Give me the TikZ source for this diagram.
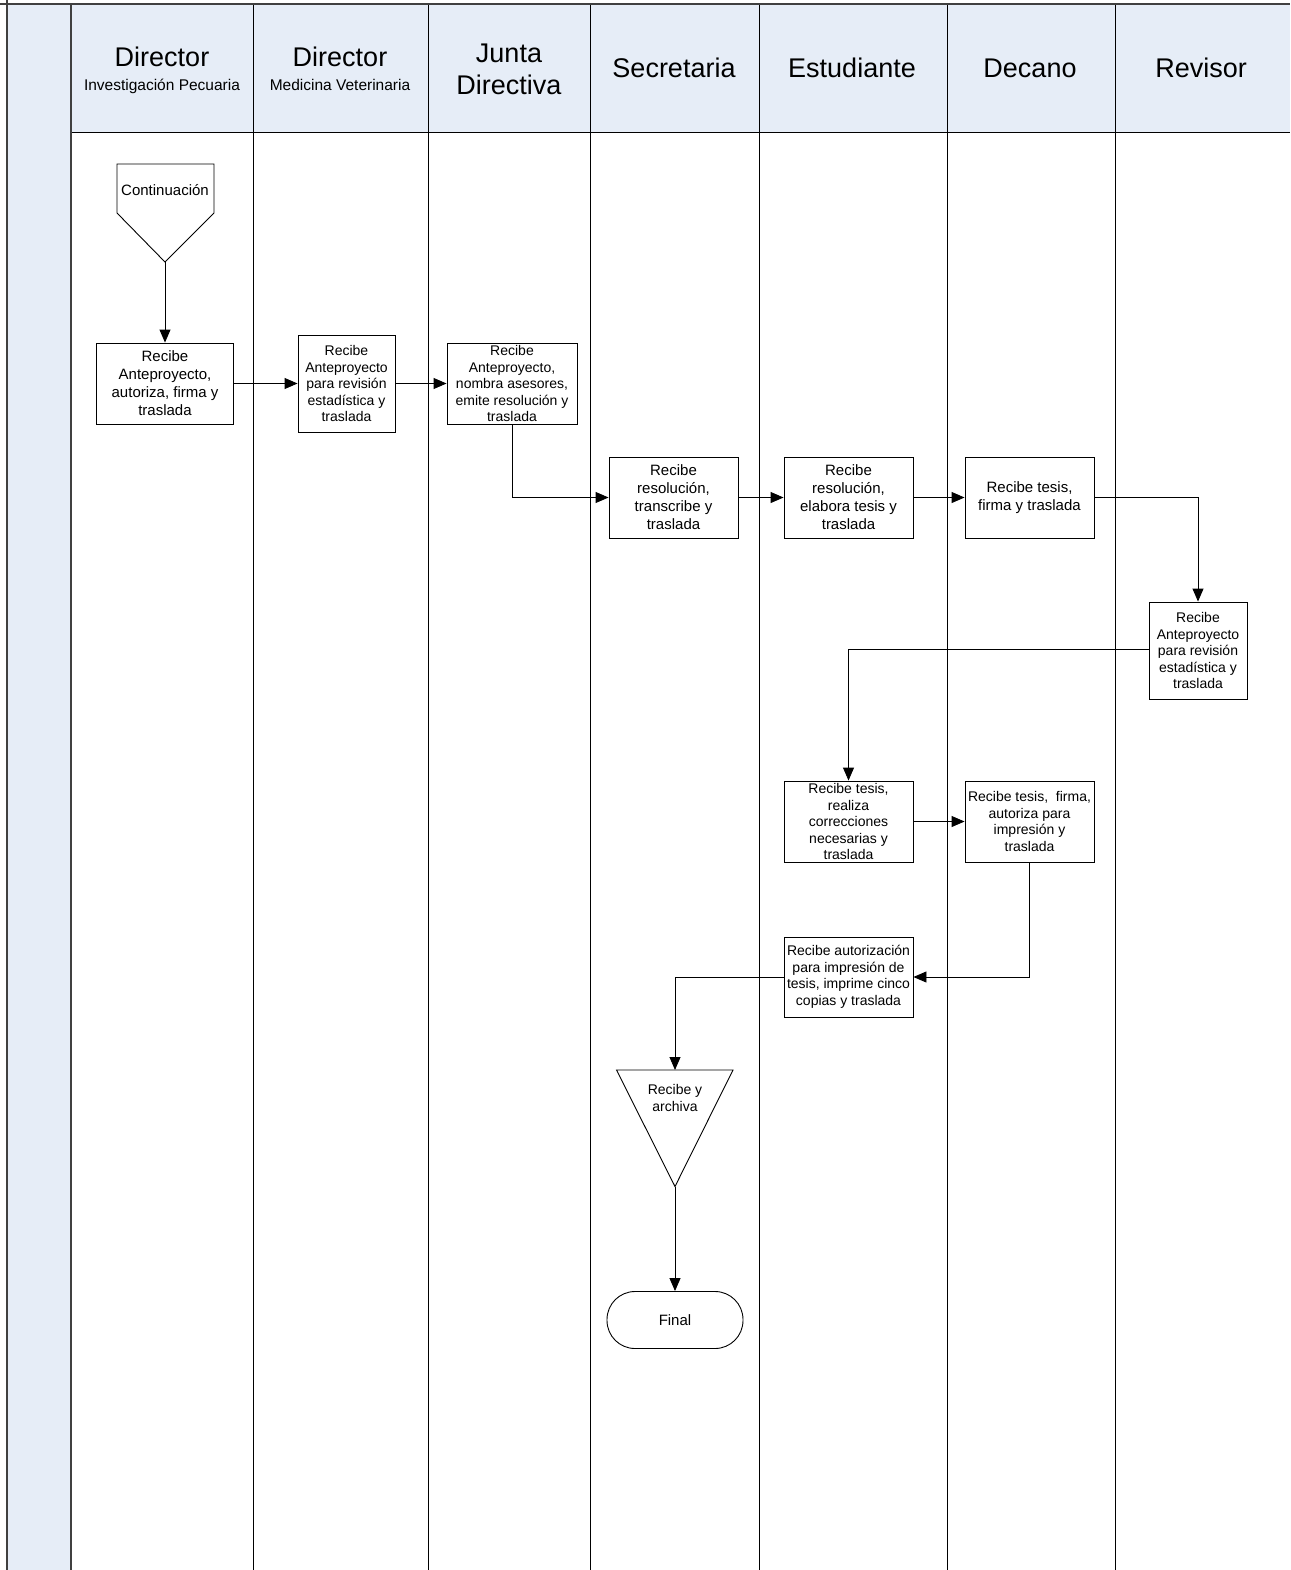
\documentclass[tikz,border=0pt]{standalone}
\usepackage{fontspec}
\setmainfont{Liberation Sans}
\usetikzlibrary{arrows.meta}
\definecolor{hdr}{RGB}{230,237,247}
\definecolor{framec}{RGB}{64,64,64}
\begin{document}
\begin{tikzpicture}[x=1pt,y=-1pt,
  proc/.style={draw,line width=0.9pt,inner sep=0pt,align=center},
  flow/.style={line width=0.9pt,-{Triangle[length=13pt,width=11pt]}},
  lane/.style={line width=1pt},
  frameline/.style={draw=framec,line width=2pt},
  hbig/.style={font=\fontsize{27}{32}\selectfont,anchor=base},
  hsmall/.style={font=\fontsize{15.5}{18}\selectfont,anchor=base},
  tA/.style={font=\fontsize{15}{18}\selectfont,align=center},
  tB/.style={font=\fontsize{14}{16.5}\selectfont,align=center}]
\useasboundingbox (0,0) rectangle (1290,1570);
% backgrounds
\fill[hdr] (7,5) rectangle (1290,133);
\fill[hdr] (7,5) rectangle (71,1570);
% lane lines
\draw[lane] (71,133) -- (1290,133);
\foreach \xx in {253,428,590,759,947,1115} {\draw[lane] (\xx,5) -- (\xx,1570);}
\draw[frameline] (0,4) -- (1290,4);
\draw[frameline] (7,0) -- (7,1570);
\draw[frameline] (71,5) -- (71,1570);
% headers
\node[hbig] (h1) at (162,67) {Director};
\node[hsmall] (h1s) at (162,91) {Investigación Pecuaria};
\node[hbig] (h2) at (340,67) {Director};
\node[hsmall] (h2s) at (340,91) {Medicina Veterinaria};
\node[hbig] (h3a) at (509,63) {Junta};
\node[hbig] (h3b) at (509,95) {Directiva};
\node[hbig] (h4) at (674,78) {Secretaria};
\node[hbig] (h5) at (852,78) {Estudiante};
\node[hbig] (h6) at (1030,78) {Decano};
\node[hbig] (h7) at (1201,78) {Revisor};
% continuation connector
\draw[line width=0.9pt] (117,164) -- (214,164) -- (214,213) -- (165,262) -- (117,213) -- cycle;
\coordinate (contb) at (165,262);
\node[tA] (cont) at (165,190) {Continuación};
% process boxes
\node[proc,tA,minimum width=137pt,minimum height=81pt] (b1) at (165,383.5) {Recibe\\Anteproyecto,\\autoriza, firma y\\traslada};
\node[proc,tB,minimum width=97pt,minimum height=97pt] (b2) at (346.5,383.5) {Recibe\\Anteproyecto\\para revisión\\estadística y\\traslada};
\node[proc,tB,minimum width=130pt,minimum height=81pt] (b3) at (512,383.5) {Recibe\\Anteproyecto,\\nombra asesores,\\emite resolución y\\traslada};
\node[proc,tA,minimum width=129pt,minimum height=81pt] (b4) at (673.5,497.5) {Recibe\\resolución,\\transcribe y\\traslada};
\node[proc,tA,minimum width=129pt,minimum height=81pt] (b5) at (848.5,497.5) {Recibe\\resolución,\\elabora tesis y\\traslada};
\node[proc,tA,minimum width=129pt,minimum height=81pt] (b6) at (1029.5,497.5) {Recibe tesis,\\firma y traslada};
\node[proc,tB,minimum width=98pt,minimum height=97pt] (b7) at (1198,650.5) {Recibe\\Anteproyecto\\para revisión\\estadística y\\traslada};
\node[proc,tB,minimum width=129pt,minimum height=81pt] (b8) at (848.5,821.5) {Recibe tesis,\\realiza\\correcciones\\necesarias y\\traslada};
\node[proc,tB,minimum width=129pt,minimum height=81pt] (b9) at (1029.5,821.5) {Recibe tesis,\ \ firma,\\autoriza para\\impresión y\\traslada};
\node[proc,tB,minimum width=129pt,minimum height=80pt] (b10) at (848.5,977) {Recibe autorización\\para impresión de\\tesis, imprime cinco\\copias y traslada};
% archive triangle
\draw[line width=0.9pt] (616.5,1070) -- (733,1070) -- (675,1186.5) -- cycle;
\coordinate (tritop) at (675,1070);
\coordinate (tribot) at (675,1186.5);
\node[tB] (tri) at (675,1098) {Recibe y\\archiva};
% terminal
\node[proc,tA,minimum width=136pt,minimum height=57pt,rounded corners=28pt] (fin) at (675,1320) {Final};
% connectors
\draw[flow] (contb) -- (b1.north);
\draw[flow] (b1) -- (b2);
\draw[flow] (b2.east) -- (b3.west |- b2.east);
\draw[flow] (b3.south) |- (b4.west);
\draw[flow] (b4) -- (b5);
\draw[flow] (b5) -- (b6);
\draw[flow] (b6.east) -| (b7.north);
\draw[flow] ([yshift=1.5pt]b7.west) -| (b8.north);
\draw[flow] (b8) -- (b9);
\draw[flow] (b9.south) |- (b10.east);
\draw[flow] (b10.west) -| (tritop);
\draw[flow] (tribot) -- (fin.north);
\end{tikzpicture}
\end{document}
